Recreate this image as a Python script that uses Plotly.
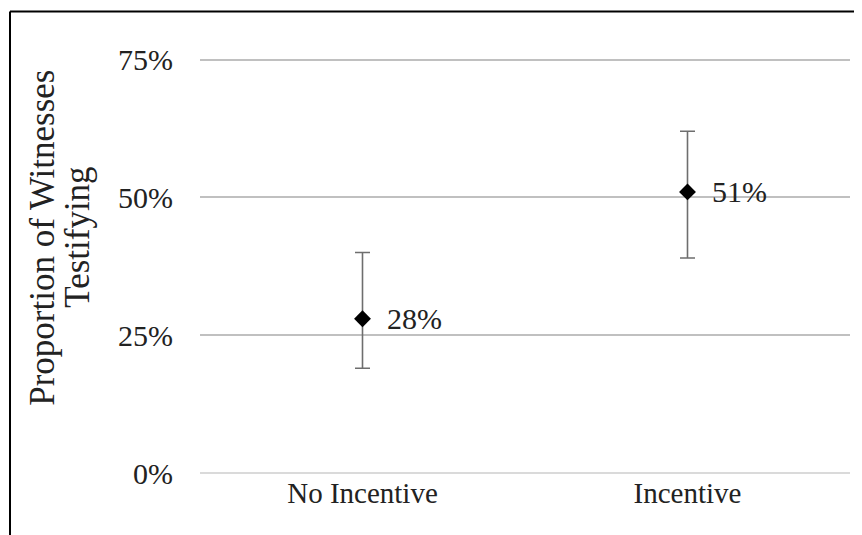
import plotly.graph_objects as go

categories = ["No Incentive", "Incentive"]
proportions = [0.28, 0.51]
err_plus = [0.12, 0.11]
err_minus = [0.09, 0.12]
value_labels = ["28%", "51%"]
y_ticks = [0, 0.25, 0.5, 0.75]
y_tick_labels = ["0%", "25%", "50%", "75%"]
y_title_lines = ["Proportion of Witnesses", "Testifying"]

FONT = "Liberation Serif"
OFF = 8  # page body margin

fig = go.Figure()
fig.add_trace(go.Scatter(
    x=categories, y=proportions, mode="markers",
    marker=dict(symbol="diamond", size=13, color="black"),
    error_y=dict(type="data", symmetric=False, array=err_plus, arrayminus=err_minus,
                 color="#6e6e6e", thickness=1.6, width=7.5),
    showlegend=False, hoverinfo="skip",
))

for c, v, t in zip(categories, proportions, value_labels):
    fig.add_annotation(x=c, y=v, text=t, showarrow=False, xanchor="left", yanchor="middle",
                       xshift=22, font=dict(family=FONT, size=30, color="#222"))

YMAX = 0.753
pxu = (473 - 60) / 0.75
L, R = 200 - OFF, 862 - (850 - OFF)
B = 535 - (473 - OFF)
T = (473 - OFF) - YMAX * pxu
pw, ph = 862 - L - R, 535 - T - B
bx = (10 - OFF - L) / pw
by = (535 - B - (12 - OFF)) / ph

# axis title as two rotated annotations
ty = (535 - B - (238 - OFF)) / ph
for line, cx in zip(y_title_lines, [43, 78]):
    fig.add_annotation(xref="paper", yref="paper", x=(cx - OFF - L) / pw, y=ty, text=line,
                       textangle=-90, showarrow=False, xanchor="center", yanchor="middle",
                       font=dict(family=FONT, size=35, color="#222"))

fig.update_layout(
    width=862, height=535,
    margin=dict(l=L, r=R, t=T, b=B, autoexpand=False),
    paper_bgcolor="white", plot_bgcolor="white",
    font=dict(family=FONT, size=30, color="#222"),
    xaxis=dict(showgrid=False, showline=False, zeroline=False, ticks="",
               tickfont=dict(size=29), range=[-0.5, 1.5]),
    yaxis=dict(range=[0, YMAX], tickvals=y_ticks, ticktext=y_tick_labels,
               showgrid=True, gridcolor="#c0c0c0", gridwidth=1.5,
               zeroline=True, zerolinecolor="#dadada", zerolinewidth=1.5,
               showline=False, ticks="", ticklabelstandoff=26,
               tickfont=dict(size=30)),
    shapes=[
        dict(type="line", xref="paper", yref="paper", x0=bx, x1=bx, y0=by, y1=-0.3,
             line=dict(color="black", width=2)),
        dict(type="line", xref="paper", yref="paper", x0=bx, x1=1.1, y0=by, y1=by,
             line=dict(color="black", width=2)),
    ],
)

fig.write_html("out.html")
